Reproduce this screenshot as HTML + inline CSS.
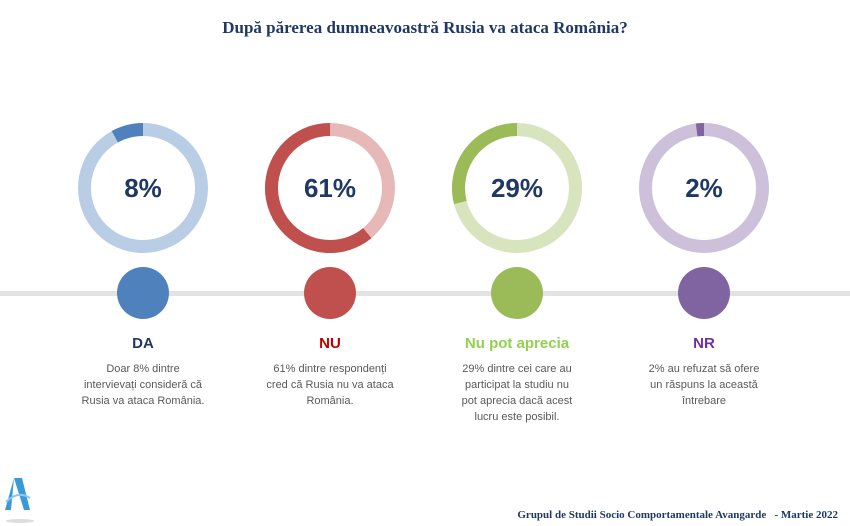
<!DOCTYPE html>
<html><head><meta charset="utf-8"><style>
body{margin:0;width:850px;height:526px;background:#fff;overflow:hidden;position:relative;font-family:"Liberation Sans",sans-serif}
.t{position:absolute;text-align:center;width:200px}
.lab{top:335px;font-weight:bold;font-size:15px}
.desc{top:361px;font-size:11px;line-height:16px;color:#595959}
</style></head><body>
<div style="position:absolute;top:18px;left:0;width:850px;text-align:center;font-family:'Liberation Serif',serif;font-weight:bold;font-size:17px;color:#1f3864">După părerea dumneavoastră Rusia va ataca România?</div>
<svg width="850" height="526" style="position:absolute;left:0;top:0">
<rect x="0" y="291" width="850" height="5" fill="#e3e3e3"/>
<g fill="none" stroke-width="13">
<circle cx="143" cy="188" r="58.5" stroke="#b9cde5"/>
<circle cx="143" cy="188" r="58.5" stroke="#4f81bd" stroke-dasharray="29.4 400" transform="rotate(-118.8 143 188)"/>
<circle cx="330" cy="188" r="58.5" stroke="#e6b9b8"/>
<circle cx="330" cy="188" r="58.5" stroke="#c0504d" stroke-dasharray="224.2 400" transform="rotate(50.4 330 188)"/>
<circle cx="517" cy="188" r="58.5" stroke="#d7e4bd"/>
<circle cx="517" cy="188" r="58.5" stroke="#9bbb59" stroke-dasharray="106.6 400" transform="rotate(-194.4 517 188)"/>
<circle cx="704" cy="188" r="58.5" stroke="#ccc0da"/>
<circle cx="704" cy="188" r="58.5" stroke="#8064a2" stroke-dasharray="7.4 400" transform="rotate(-97.2 704 188)"/>
</g>
<g font-family="Liberation Sans,sans-serif" font-weight="bold" font-size="26" fill="#1f3864" text-anchor="middle">
<text x="143" y="197">8%</text><text x="330" y="197">61%</text><text x="517" y="197">29%</text><text x="704" y="197">2%</text>
</g>
<circle cx="143" cy="293" r="26" fill="#4f81bd"/>
<circle cx="330" cy="293" r="26" fill="#c0504d"/>
<circle cx="517" cy="293" r="26" fill="#9bbb59"/>
<circle cx="704" cy="293" r="26" fill="#8064a2"/>
<path d="M14 478 L22 478 L30 510 L24 510 Z M14 478 L5 510 L11 510 Z" fill="#3a9ad9"/>
<path d="M6 502 Q18 490 30 498" stroke="#8cc8f0" stroke-width="2" fill="none"/>
<ellipse cx="20" cy="521" rx="14" ry="2" fill="#ddd"/>
</svg>
<div class="t lab" style="left:43px;color:#1f3864">DA</div>
<div class="t lab" style="left:230px;color:#c00000">NU</div>
<div class="t lab" style="left:417px;color:#92d050">Nu pot aprecia</div>
<div class="t lab" style="left:604px;color:#7030a0">NR</div>
<div class="t desc" style="left:43px">Doar 8% dintre<br>intervievați consideră că<br>Rusia va ataca România.</div>
<div class="t desc" style="left:230px">61% dintre respondenți<br>cred că Rusia nu va ataca<br>România.</div>
<div class="t desc" style="left:417px">29% dintre cei care au<br>participat la studiu nu<br>pot aprecia dacă acest<br>lucru este posibil.</div>
<div class="t desc" style="left:604px">2% au refuzat să ofere<br>un răspuns la această<br>întrebare</div>
<div style="position:absolute;right:12px;top:509px;font-family:'Liberation Serif',serif;font-weight:bold;font-size:11px;color:#1f3864;white-space:pre">Grupul de Studii Socio Comportamentale Avangarde   - Martie 2022</div>
</body></html>
